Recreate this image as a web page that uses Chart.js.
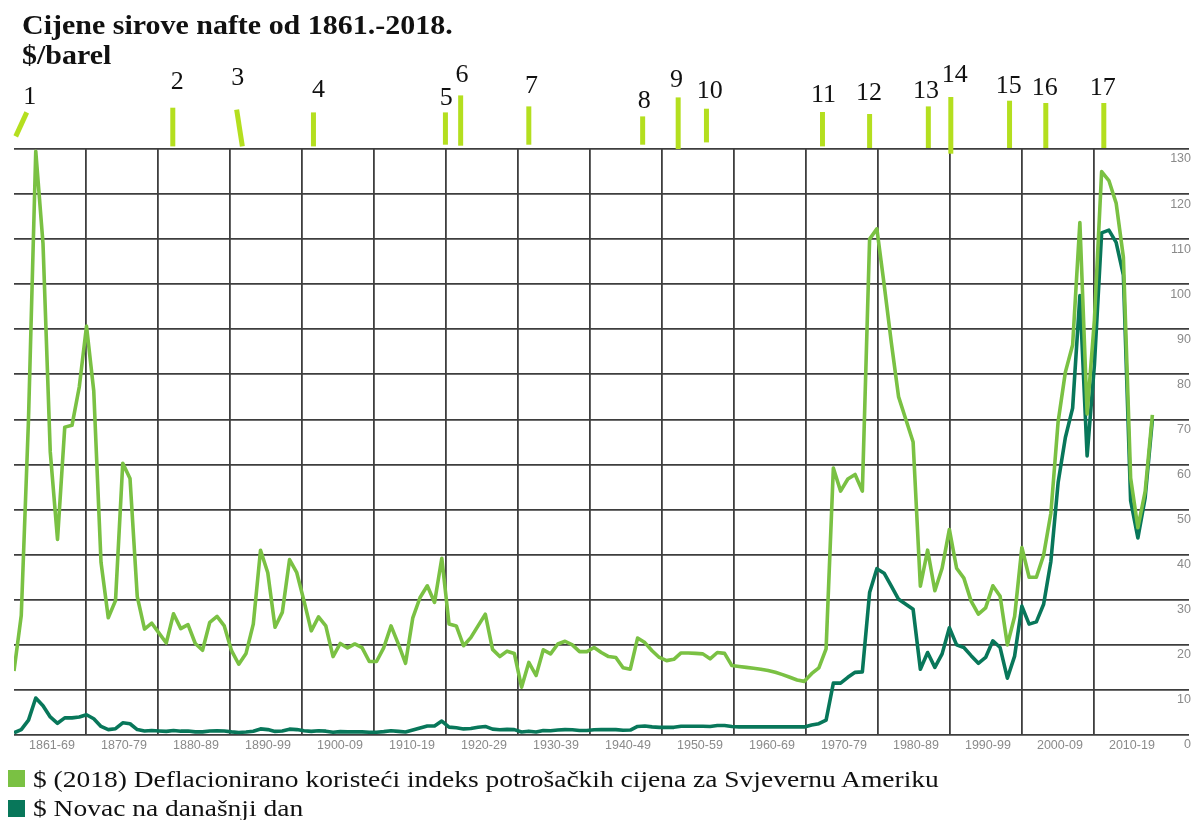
<!DOCTYPE html>
<html>
<head>
<meta charset="utf-8">
<script src="https://cdn.jsdelivr.net/npm/chart.js@4.4.1/dist/chart.umd.min.js"></script>
<style>
html,body{margin:0;padding:0;background:#fff;overflow:hidden;}
#wrap{position:relative;width:1195px;height:820px;}
#c{position:absolute;left:0;top:0;}
.title{position:absolute;left:22px;top:10px;font:bold 27px "Liberation Serif",serif;line-height:30px;color:#111;white-space:nowrap;transform-origin:0 0;transform:scaleX(1.11);}
.legtxt{position:absolute;left:33px;font:24px "Liberation Serif",serif;line-height:24px;color:#111;white-space:nowrap;transform-origin:0 0;transform:scaleX(1.145);}
.sq{position:absolute;left:8px;width:17px;height:17px;}
</style>
</head>
<body>
<div id="wrap">
<canvas id="c" width="1195" height="820"></canvas>
<div class="title">Cijene sirove nafte od 1861.-2018.<br>$/barel</div>
<div class="sq" style="top:770px;background:#7ac143"></div>
<div class="legtxt" style="top:767px">$ (2018) Deflacionirano koristeći indeks potrošačkih cijena za Svjevernu Ameriku</div>
<div class="sq" style="top:800px;background:#08775a"></div>
<div class="legtxt" style="top:796px">$ Novac na današnji dan</div>
</div>
<script>
// ---- data ----
const firstYear = 1861;
const lastYear = 2018;
const years = [];
for (let y = firstYear; y <= lastYear; y++) years.push(y);

const decadeLabels = ['1861-69','1870-79','1880-89','1890-99','1900-09','1910-19','1920-29','1930-39','1940-49','1950-59','1960-69','1970-79','1980-89','1990-99','2000-09','2010-19'];
const yTickValues = [0,10,20,30,40,50,60,70,80,90,100,110,120,130];

const realPrice2018 = [
  14.2, 26.5, 70, 129.5, 109, 62.8, 43.4, 68.3, 68.7,
  77.2, 90.7, 76.3, 38.3, 26.0, 29.8, 60.3, 56.9, 30.7, 23.5,
  24.8, 22.6, 20.4, 26.9, 23.6, 24.5, 20.3, 18.8, 25.0, 26.3,
  24.2, 18.7, 15.7, 18.1, 24.6, 41.0, 36.0, 23.9, 27.2, 38.9,
  36.0, 29.7, 23.1, 26.2, 24.2, 17.4, 20.3, 19.3, 20.2, 19.4,
  16.3, 16.3, 19.4, 24.2, 20.2, 15.9, 26.0, 30.5, 33.1, 29.4,
  39.2, 24.6, 24.2, 19.8, 21.6, 24.2, 26.8, 19.0, 17.4, 18.6,
  18.1, 10.6, 16.1, 13.2, 18.9, 18.0, 20.2, 20.8, 20.0, 18.5,
  18.5, 19.4, 18.3, 17.4, 17.2, 14.9, 14.6, 21.5, 20.5, 18.7,
  17.2, 16.5, 16.8, 18.2, 18.2, 18.1, 18.0, 16.9, 18.3, 18.1,
  15.4, 15.2, 15.0, 14.8, 14.6, 14.3, 13.9, 13.4, 12.8, 12.2,
  11.9, 13.6, 14.9, 19.1, 59.2, 54.1, 56.8, 57.8, 54.1, 110,
  112.3, 100, 87, 75, 70, 65, 33, 41, 32, 37,
  45.6, 37, 34.8, 29.7, 26.8, 28.2, 33.1, 30.8, 20.0, 26.3,
  41.6, 35.0, 35.0, 39.9, 49.2, 69.5, 80.5, 86.5, 113.7, 71.2,
  92, 125, 123, 118, 106, 57, 46, 54, 71
];

const moneyOfDay = [
  0.5, 1.2, 3.3, 8.2, 6.5, 4.0, 2.6, 3.8, 3.8,
  4.0, 4.5, 3.6, 1.9, 1.2, 1.4, 2.7, 2.5, 1.2, 0.9,
  1.0, 0.9, 0.8, 1.0, 0.85, 0.9, 0.7, 0.7, 0.9, 0.95,
  0.9, 0.7, 0.55, 0.65, 0.85, 1.35, 1.2, 0.8, 0.9, 1.3,
  1.2, 0.95, 0.8, 0.95, 0.85, 0.6, 0.75, 0.7, 0.7, 0.7,
  0.6, 0.6, 0.75, 0.95, 0.8, 0.65, 1.1, 1.55, 2.0, 2.0,
  3.1, 1.75, 1.6, 1.35, 1.45, 1.7, 1.9, 1.3, 1.15, 1.25,
  1.2, 0.65, 0.85, 0.65, 1.0, 0.95, 1.1, 1.2, 1.15, 1.0,
  1.0, 1.15, 1.2, 1.2, 1.2, 1.05, 1.1, 1.9, 2.0, 1.8,
  1.7, 1.7, 1.7, 1.95, 1.95, 1.95, 1.95, 1.9, 2.1, 2.1,
  1.9, 1.8, 1.8, 1.8, 1.8, 1.8, 1.8, 1.8, 1.8, 1.8,
  1.8, 2.2, 2.5, 3.3, 11.5, 11.5, 12.8, 13.9, 14.0, 31.6,
  36.9, 35.9, 33.0, 30.1, 29.0, 27.9, 14.6, 18.3, 15.0, 18.0,
  23.8, 20.0, 19.4, 17.6, 15.9, 17.2, 20.9, 19.4, 12.6, 17.5,
  28.6, 24.6, 25.1, 29.0, 38.5, 56, 66, 72.5, 97.5, 61.9,
  82, 111.4, 112, 109.3, 102, 52, 43.7, 52.6, 70
];

const eventLabels = ['1','2','3','4','5','6','7','8','9','10','11','12','13','14','15','16','17'];
const eventYears = [1862.0, 1882.9, 1892.1, 1902.3, 1920.5, 1922.6, 1932.0, 1947.7, 1952.6, 1956.5, 1972.5, 1979.0, 1987.1, 1990.2, 1998.3, 2003.3, 2011.3];

// ---- marker geometry (pixels relative to top of plot area) ----
const markerTop    = [-36.6,-41.3,-39.3,-36.6,-36.6,-53.6,-42.6,-32.6,-51.6,-40.3,-37,-35,-42.6,-52,-48.3,-46,-46];
const markerBottom = [-12.6,-2.6,-2.6,-2.6,-4.3,-3.3,-4.3,-4.3,0,-6.6,-2.6,-1,-1,4.7,-1,-1,-1];
const markerSlant  = [11,0,-5.7,0,0,0,0,0,0,0,0,0,0,0,0,0,0];
const labelDx      = [3,4.4,1,5,0.7,1.4,2.7,1.6,-1.6,3.3,1,-0.7,-2.3,4,-0.7,-1,-1];
const labelDy      = [-52.3,-67.3,-71,-59.3,-51,-74.3,-62.6,-47.6,-69.3,-57.6,-54.3,-56,-57.6,-74.3,-62.6,-61,-61];

const gridColor = '#3e3e3e';
const tickColor = '#8a8a8a';

const eventPlugin = {
  id: 'events',
  afterDraw(chart) {
    const {ctx, chartArea, scales} = chart;
    const xs = scales.x;
    ctx.save();
    eventYears.forEach((yr, i) => {
      const cx = xs.getPixelForValue(yr);
      const xb = cx - markerSlant[i] / 2;
      const xt = cx + markerSlant[i] / 2;
      ctx.strokeStyle = '#b4df1f';
      ctx.lineWidth = 5;
      ctx.lineCap = 'butt';
      ctx.beginPath();
      ctx.moveTo(xb, chartArea.top + markerBottom[i]);
      ctx.lineTo(xt, chartArea.top + markerTop[i]);
      ctx.stroke();
      ctx.fillStyle = '#111';
      ctx.font = '26px "Liberation Serif", serif';
      ctx.textAlign = 'center';
      ctx.textBaseline = 'middle';
      ctx.fillText(eventLabels[i], xt + labelDx[i], chartArea.top + labelDy[i]);
    });
    ctx.restore();
  }
};

new Chart(document.getElementById('c'), {
  type: 'line',
  data: {
    datasets: [
      {
        label: '$ (2018) Deflacionirano koristeći indeks potrošačkih cijena za Svjevernu Ameriku',
        data: years.map((y, i) => ({x: y, y: realPrice2018[i]})),
        borderColor: '#7ac143',
        borderWidth: 3.6,
        pointRadius: 0,
        tension: 0,
        borderJoinStyle: 'round',
        xAxisID: 'x',
        yAxisID: 'y'
      },
      {
        label: '$ Novac na današnji dan',
        data: years.map((y, i) => ({x: y, y: moneyOfDay[i]})),
        borderColor: '#08775a',
        borderWidth: 3.6,
        pointRadius: 0,
        tension: 0,
        borderJoinStyle: 'round',
        xAxisID: 'x',
        yAxisID: 'y'
      }
    ]
  },
  options: {
    responsive: false,
    animation: false,
    devicePixelRatio: 1,
    layout: {padding: {top: 149, left: 14, right: 2, bottom: 64}},
    plugins: {legend: {display: false}, tooltip: {enabled: false}},
    scales: {
      x: {
        type: 'linear',
        display: false,
        min: firstYear,
        max: 2023.05
      },
      decades: {
        type: 'linear',
        position: 'bottom',
        min: 0,
        max: 16.32,
        afterBuildTicks: (s) => { s.ticks = decadeLabels.map((_, i) => ({value: i})); },
        grid: {
          color: (c) => (c.index >= 1 && c.index < decadeLabels.length) ? gridColor : 'rgba(0,0,0,0)',
          lineWidth: 1.8,
          drawTicks: false
        },
        border: {display: false},
        ticks: {
          autoSkip: false,
          maxRotation: 0,
          align: 'start',
          labelOffset: 15,
          padding: 3,
          color: tickColor,
          font: {family: '"Liberation Sans", Arial, sans-serif', size: 12.5},
          callback: (v) => decadeLabels[v] !== undefined ? decadeLabels[v] : ''
        }
      },
      y: {
        type: 'linear',
        position: 'right',
        min: 0,
        max: 130,
        afterBuildTicks: (s) => { s.ticks = yTickValues.map(v => ({value: v})); },
        grid: {color: gridColor, lineWidth: 1.8, drawTicks: false},
        border: {display: false},
        ticks: {
          mirror: true,
          labelOffset: 10,
          padding: 2,
          color: tickColor,
          font: {family: '"Liberation Sans", Arial, sans-serif', size: 12.5}
        }
      }
    }
  },
  plugins: [eventPlugin]
});
</script>
</body>
</html>
